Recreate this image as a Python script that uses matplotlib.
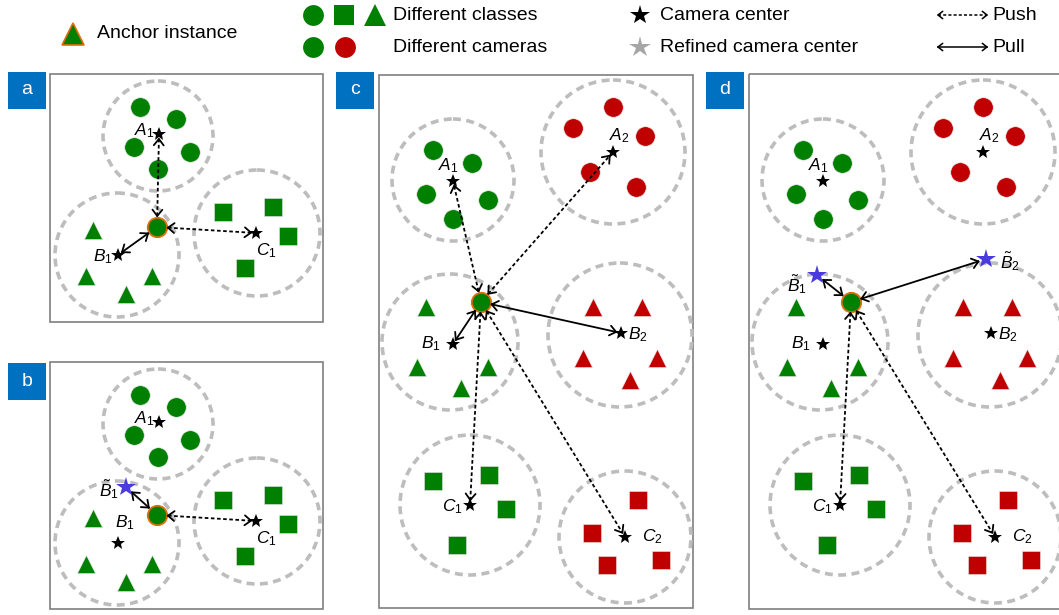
import numpy as np
import matplotlib.pyplot as plt
from matplotlib.patches import Circle, Rectangle

plt.rcParams['font.family'] = ['Liberation Sans', 'DejaVu Sans']
plt.rcParams['mathtext.fontset'] = 'custom'
plt.rcParams['mathtext.rm'] = 'Liberation Sans'
plt.rcParams['mathtext.it'] = 'Liberation Sans:italic'

GREEN = '#008000'
RED = '#C00000'
ORANGE = '#E46C0A'
BLUE_STAR = '#4A3BE0'
RING = '#BDBDBD'
TAB = '#0070C0'

# === DATI (pixel, y verso il basso) ===
# pannello a; il pannello b e' lo stesso spostato in basso
a_circles = [(140, 107), (176, 119), (134, 147), (190, 152), (158, 169)]
a_triangles = [(93, 230), (86, 276), (152, 276), (126, 294)]
a_squares = [(223, 212), (273, 207), (288, 236), (245, 268)]
a_rings = [(158, 136, 55), (117, 255, 62), (257, 233, 63)]
a_anchor = (157, 227)
a_stars = {'A_1': (159, 134), 'B_1': (118, 255), 'C_1': (256, 233)}
b_shift = 288
b_refined = {r'\tilde{B}_1': (126, 199)}

# pannello c; il pannello d e' lo stesso spostato a destra
c_green_circles = [(433, 150), (472, 163), (426, 194), (488, 200), (453, 219)]
c_red_circles = [(613, 107), (573, 128), (645, 136), (590, 172), (636, 187)]
c_green_triangles = [(426, 307), (417, 367), (488, 367), (461, 388)]
c_red_triangles = [(593, 307), (642, 307), (583, 358), (657, 358), (630, 380)]
c_green_squares = [(433, 481), (489, 475), (506, 509), (457, 545)]
c_red_squares = [(638, 500), (592, 533), (607, 565), (661, 560)]
c_rings = [(453, 180, 61), (613, 152, 72), (450, 342, 68),
           (620, 335, 72), (470, 505, 70), (625, 537, 66)]
c_anchor = (481, 302)
c_stars = {'A_1': (453, 181), 'A_2': (613, 152), 'B_1': (453, 344),
           'B_2': (621, 333), 'C_1': (470, 505), 'C_2': (625, 537)}
d_shift = 370
d_refined = {r'\tilde{B}_1': (447, 275), r'\tilde{B}_2': (616, 259)}

# === FIGURA ===
fig = plt.figure(figsize=(10.59, 6.15), dpi=100)
ax = fig.add_axes([0, 0, 1, 1])
ax.set_xlim(0, 1059)
ax.set_ylim(615, 0)
ax.axis('off')


def sh(p, dx=0, dy=0):
    return (p[0] + dx, p[1] + dy)


def marks(pts, marker, color, ms, dx=0, dy=0):
    for p in pts:
        x, y = sh(p, dx, dy)
        ax.plot(x, y, marker, ms=ms, mfc=color, mec='#E6E6E6', mew=0.4, zorder=3)


def ring(x, y, r):
    ax.add_patch(Circle((x, y), r, fill=False, ec=RING, lw=2.6,
                        ls=(0, (2.2, 1.5)), zorder=1))


def star(p, refined=False, ms=None):
    if refined:
        ax.plot(p[0], p[1], '*', ms=ms or 15, mfc=BLUE_STAR, mec=BLUE_STAR, mew=0, zorder=5)
    else:
        ax.plot(p[0], p[1], '*', ms=ms or 10, mfc='k', mec='k', mew=0, zorder=5)


def anchor(p):
    ax.plot(p[0], p[1], 'o', ms=14, mfc=GREEN, mec=ORANGE, mew=1.3, zorder=3)


def label(p, name, dx, dy, ha):
    ax.text(p[0] + dx, p[1] + dy, '$' + name + '$', fontsize=12.5,
            ha=ha, va='center', zorder=6)


def arrow(p, q, push, gp=11, gq=5, L=8, ang=38, lw=1.3):
    p = np.array(p, float)
    q = np.array(q, float)
    u = (q - p) / np.linalg.norm(q - p)
    a = p + u * gp
    b = q - u * gq
    ls = (0, (2, 1.4)) if push else '-'
    ax.plot([a[0], b[0]], [a[1], b[1]], color='k', lw=lw, ls=ls, zorder=4)
    for tip, d in ((a, -u), (b, u)):
        for s in (1, -1):
            t = np.radians(ang * s)
            rot = np.array([[np.cos(t), -np.sin(t)], [np.sin(t), np.cos(t)]])
            e = tip + (rot @ (-d)) * L
            ax.plot([tip[0], e[0]], [tip[1], e[1]], color='k', lw=lw,
                    solid_capstyle='round', zorder=4)


def box(x, y, w, h, tag, tx, ty):
    ax.add_patch(Rectangle((x, y), w, h, fill=False, ec='#7F7F7F', lw=1.2, zorder=0))
    ax.add_patch(Rectangle((tx, ty), 38, 37, fc=TAB, ec='none', zorder=7))
    ax.text(tx + 19, ty + 18, tag, color='white', fontsize=14, ha='center',
            va='center', zorder=8)


# === LEGENDA ===
ax.plot(73, 34, '^', ms=16, mfc=GREEN, mec=ORANGE, mew=1.2)
ax.text(97, 34, 'Anchor instance', fontsize=14, va='center')
ax.plot(313, 15, 'o', ms=15, mfc=GREEN, mec=GREEN, mew=0)
ax.plot(344, 15, 's', ms=14.5, mfc=GREEN, mec=GREEN, mew=0)
ax.plot(375, 15, '^', ms=16, mfc=GREEN, mec=GREEN, mew=0)
ax.text(393, 15, 'Different classes', fontsize=14, va='center')
ax.plot(313, 47, 'o', ms=15, mfc=GREEN, mec=GREEN, mew=0)
ax.plot(345, 47, 'o', ms=15, mfc=RED, mec=RED, mew=0)
ax.text(393, 47, 'Different cameras', fontsize=14, va='center')
star((640, 15), ms=15)
ax.plot(640, 47, '*', ms=16, mfc='#A6A6A6', mec='#A6A6A6', mew=0)
ax.text(660, 15, 'Camera center', fontsize=14, va='center')
ax.text(660, 47, 'Refined camera center', fontsize=14, va='center')
arrow((938, 15), (987, 15), True, gp=0, gq=0, L=6, lw=1.1)
arrow((938, 47), (987, 47), False, gp=0, gq=0, L=6, lw=1.1)
ax.text(992, 15, 'Push', fontsize=14, va='center')
ax.text(992, 47, 'Pull', fontsize=14, va='center')

# === PANNELLI a e b ===
box(50, 74, 273, 248, 'a', 8, 72)
box(50, 362, 273, 247, 'b', 8, 363)
for dy in (0, b_shift):
    for r in a_rings:
        ring(r[0], r[1] + dy, r[2])
    marks(a_circles, 'o', GREEN, 14, dy=dy)
    marks(a_triangles, '^', GREEN, 13, dy=dy)
    marks(a_squares, 's', GREEN, 12.5, dy=dy)
    anchor(sh(a_anchor, dy=dy))
    for k, p in a_stars.items():
        star(sh(p, dy=dy))

# a
label(a_stars['A_1'], 'A_1', -4, -3, 'right')
label(a_stars['B_1'], 'B_1', -5, 2, 'right')
label(a_stars['C_1'], 'C_1', 0, 18, 'left')
arrow(a_anchor, a_stars['A_1'], True)
arrow(a_anchor, a_stars['C_1'], True)
arrow(a_anchor, a_stars['B_1'], False)

# b
bA, bB, bC = (sh(a_stars[k], dy=b_shift) for k in ('A_1', 'B_1', 'C_1'))
bAnc = sh(a_anchor, dy=b_shift)
bR = sh(b_refined[r'\tilde{B}_1'], dy=b_shift)
star(bR, refined=True)
label(bA, 'A_1', -4, -3, 'right')
label(bB, 'B_1', 7, -20, 'center')
label(bC, 'C_1', 0, 18, 'left')
label(bR, r'\tilde{B}_1', -7, 3, 'right')
arrow(bAnc, bC, True)
arrow(bAnc, bR, False, gq=8)

# === PANNELLI c e d ===
box(379, 75, 314, 533, 'c', 336, 72)
box(749, 74, 330, 535, 'd', 706, 72)
for dx in (0, d_shift):
    for r in c_rings:
        ring(r[0] + dx, r[1], r[2])
    marks(c_green_circles, 'o', GREEN, 14, dx=dx)
    marks(c_red_circles, 'o', RED, 14, dx=dx)
    marks(c_green_triangles, '^', GREEN, 13, dx=dx)
    marks(c_red_triangles, '^', RED, 13, dx=dx)
    marks(c_green_squares, 's', GREEN, 12.5, dx=dx)
    marks(c_red_squares, 's', RED, 12.5, dx=dx)
    anchor(sh(c_anchor, dx=dx))
    for k, p in c_stars.items():
        star(sh(p, dx=dx))
    st = {k: sh(p, dx=dx) for k, p in c_stars.items()}
    label(st['A_1'], 'A_1', -5, -15, 'center')
    label(st['A_2'], 'A_2', 6, -16, 'center')
    label(st['B_1'], 'B_1', -12, 0, 'right')
    label(st['B_2'], 'B_2', 7, 2, 'left')
    label(st['C_1'], 'C_1', -7, 2, 'right')
    label(st['C_2'], 'C_2', 17, 0, 'left')
    anc = sh(c_anchor, dx=dx)
    arrow(anc, st['C_1'], True)
    arrow(anc, st['C_2'], True)

# c
arrow(c_anchor, c_stars['A_1'], True)
arrow(c_anchor, c_stars['A_2'], True)
arrow(c_anchor, c_stars['B_1'], False)
arrow(c_anchor, c_stars['B_2'], False)

# d
dAnc = sh(c_anchor, dx=d_shift)
dR1 = sh(d_refined[r'\tilde{B}_1'], dx=d_shift)
dR2 = sh(d_refined[r'\tilde{B}_2'], dx=d_shift)
star(dR1, refined=True)
star(dR2, refined=True)
label(dR1, r'\tilde{B}_1', -10, 10, 'right')
label(dR2, r'\tilde{B}_2', 14, 3, 'left')
arrow(dAnc, dR1, False, gq=8)
arrow(dAnc, dR2, False, gq=8)

fig.savefig('out.png', dpi=100)
